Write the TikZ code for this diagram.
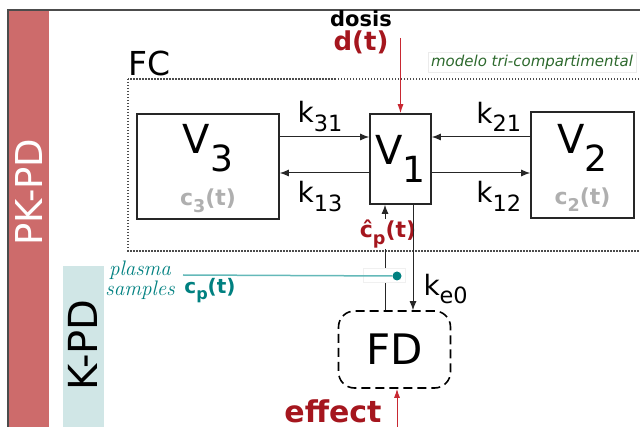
\documentclass[tikz,border=0pt]{standalone}
\usepackage{fontspec}
\setsansfont{DejaVu Sans}
\usepackage{graphicx}
\usetikzlibrary{arrows.meta, positioning}

\definecolor{pkred}{RGB}{205,107,107}
\definecolor{kpdblue}{RGB}{208,230,230}
\definecolor{darkred}{RGB}{165,22,30}
\definecolor{dosered}{RGB}{200,40,50}
\definecolor{sampleteal}{RGB}{0,128,128}
\definecolor{lineteal}{RGB}{100,185,185}
\definecolor{modelgreen}{RGB}{45,105,45}
\definecolor{concgray}{RGB}{175,175,175}

\newcommand{\fsz}[1]{\fontsize{#1}{#1}\selectfont}
\newcommand{\idx}[1]{\raisebox{-0.3em}{\scalebox{0.8}{#1}}}
\newcommand{\vidx}[1]{\raisebox{-0.45em}{\scalebox{0.9}{#1}}}

\begin{document}
\begin{tikzpicture}[x=1pt, y=-1pt,
    node distance=6pt,
    comp/.style={rectangle, draw=black!85, line width=1.6pt, inner sep=0pt},
    bigv/.style={inner sep=0pt, font=\sffamily\fsz{40}},
    conc/.style={inner sep=0pt, text=concgray, font=\sffamily\bfseries\fsz{22}},
    rate/.style={inner sep=1pt, font=\sffamily\fsz{28}},
    hl/.style={inner sep=0pt, text=darkred, font=\sffamily\bfseries\fsz{#1}},
    arrow/.style={-{Latex[length=9pt,width=7pt]}, line width=1pt, draw=black!85},
    dosearrow/.style={-{Latex[length=9pt,width=6pt]}, line width=1pt, draw=dosered}
]
    \useasboundingbox (0,0) rectangle (640,427);

    % side bars and frame
    \fill[pkred] (9,11) rectangle (49,427);
    \fill[kpdblue] (63,266) rectangle (104,427);
    \draw[black!70, line width=1.2pt] (640,10) -- (8,10) -- (8,427);
    \node[rotate=90, text=white, font=\sffamily\fsz{37}] (pkpd) at (29,192) {PK-PD};
    \node[rotate=90, font=\sffamily\fsz{40}] (kpd) at (83,345) {K-PD};

    % FC
    \draw[black!70, line width=1.1pt, dash pattern=on 1.5pt off 1.5pt] (128,79) rectangle (660,251);
    \node[anchor=south west, inner sep=0pt, font=\sffamily\fsz{33}] (fc) at (128,76) {FC};
    \node[draw=black!8, inner sep=3pt, text=modelgreen, font=\sffamily\itshape\fsz{15}] (model) at (532,62) {modelo tri-compartimental};

    \node[comp, minimum width=142pt, minimum height=105pt] (v3) at (208,166.5) {};
    \node[bigv, below=11pt of v3.north] (v3name) {V\vidx{3}};
    \node[conc, above=7pt of v3.south] (c3) {c\idx{3}(t)};

    \node[comp, minimum width=61pt, minimum height=90pt, font=\sffamily\fsz{40}] (v1) at (400.5,159) {V\vidx{1}};

    \node[comp, minimum width=103pt, minimum height=106pt] (v2) at (582.5,165) {};
    \node[bigv, below=13pt of v2.north] (v2name) {V\vidx{2}};
    \node[conc, above=7pt of v2.south] (c2) {c\idx{2}(t)};

    \coordinate (inL) at ([yshift=22pt]v1.west);
    \coordinate (outL) at ([yshift=-14pt]v1.west);
    \coordinate (inR) at ([yshift=22pt]v1.east);
    \coordinate (outR) at ([yshift=-14pt]v1.east);

    \draw[arrow] (v3.east |- inL) -- node[rate, above=4pt, pos=0.45] (k31) {k\idx{31}} (inL);
    \draw[arrow] (outL) -- node[rate, below=7pt, pos=0.55] (k13) {k\idx{13}} (v3.east |- outL);
    \draw[arrow] (v2.west |- inR) -- node[rate, above=4pt, pos=0.32] (k21) {k\idx{21}} (inR);
    \draw[arrow] (outR) -- node[rate, below=7pt, pos=0.68] (k12) {k\idx{12}} (v2.west |- outR);

    % dosis
    \node[inner sep=0pt, font=\sffamily\bfseries\fsz{21}] (dosis) at (361,19) {dosis};
    \node[hl=26, below=3pt of dosis] (dt) {d(t)};
    \coordinate (dosein) at (v1.north |- 0,38);
    \draw[dosearrow] (dosein) -- (v1.north);

    % FD
    \node[draw, dash pattern=on 9pt off 5pt, line width=1.6pt, rounded corners=16pt,
          minimum width=112pt, minimum height=77pt, font=\sffamily\fsz{42}] (fd) at (394.5,349.5) {FD};

    \coordinate (upx) at ([xshift=-15.5pt]v1.south);
    \coordinate (dnx) at ([xshift=12.5pt]v1.south);
    \draw[arrow] (upx |- fd.north) -- (upx);
    \node[hl=22, fill=white, inner sep=1pt] (cphat) at (388,234) {\^{c}\idx{p}(t)};
    \draw[arrow] (dnx) -- node[rate, right=9pt, pos=0.8] (ke0) {k\idx{e0}} (dnx |- fd.north);

    % plasma samples
    \node[draw=black!6, fill=white, minimum width=42pt, minimum height=14pt, inner sep=0pt] (sbox) at (384,275) {};
    \node[circle, fill=sampleteal, inner sep=0pt, minimum size=9pt] (dot) at (397,276) {};
    \coordinate (ps) at (183,275);
    \draw[lineteal, line width=1.5pt] (ps) -- (dot);
    \node[inner sep=0pt, text=sampleteal, font=\sffamily\bfseries\fsz{20}] (cp) at (210,291) {c\idx{p}(t)};
    \node[inner sep=0pt, text=sampleteal, align=center, font=\rmfamily\itshape\fontsize{21}{18}\selectfont] (plasma) at (140,280) {plasma\\samples};

    % effect
    \node[hl=30, anchor=base] (effect) at (333,423) {effect};
    \coordinate (effx) at ([xshift=2.5pt]fd.south);
    \draw[dosearrow] (effx |- 0,430) -- (effx);
\end{tikzpicture}
\end{document}
